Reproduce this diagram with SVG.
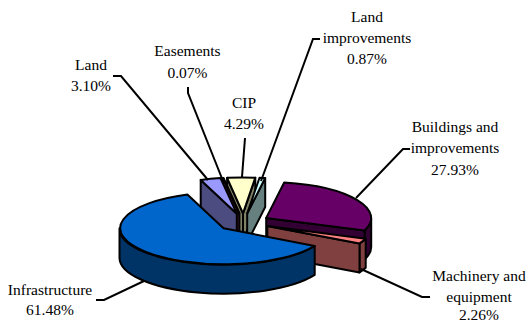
<svg xmlns="http://www.w3.org/2000/svg" width="527" height="324" viewBox="0 0 527 324">
<style>
.s{stroke:#000;stroke-width:2;stroke-linejoin:round}
.ld{fill:none;stroke:#000;stroke-width:2;stroke-linejoin:miter}
text{font-family:"Liberation Serif","Times New Roman","DejaVu Serif",serif;font-size:15.5px;fill:#000;text-anchor:middle}
</style>
<rect width="527" height="324" fill="#fff"/>
<g id="cip">
<path class="s" fill="#808066" d="M243.0,213.4 L227.1,177.8 L227.1,206.8 L243.0,242.4 Z"/>
<path class="s" fill="#808066" d="M243.0,213.4 L255.3,177.7 L255.3,206.7 L243.0,242.4 Z"/>
<path class="s" fill="#FFFFCC" d="M243.0,213.4 L227.1,177.8 A105,36 0 0 1 255.3,177.7 Z"/>
</g>
<g id="easements">
<path class="s" fill="#4C1933" d="M239.4,213.5 L223.1,178.0 L223.1,207.0 L239.4,242.5 Z"/>
<path class="s" fill="#993366" d="M239.4,213.5 L223.1,178.0 L223.5,177.9 Z"/>
</g>
<g id="land-improvements">
<path class="s" fill="#668080" d="M247.2,213.5 L265.2,178.0 L265.2,207.0 L247.2,242.5 Z"/>
<path class="s" fill="#CCFFFF" d="M247.2,213.5 L259.5,177.7 A105,36 0 0 1 265.2,178.0 Z"/>
</g>
<g id="land">
<path class="s" fill="#4C4C80" d="M236.8,213.7 L200.7,179.9 L200.7,208.9 L236.8,242.7 Z"/>
<path class="s" fill="#9999FF" d="M236.8,213.7 L200.7,179.9 A105,36 0 0 1 220.5,178.1 Z"/>
</g>
<g id="buildings">
<path class="s" fill="#330033" d="M371.2,217.9 A105,36 0 0 1 364.6,230.5 L364.6,259.5 A105,36 0 0 0 371.2,246.9 Z"/>
<path class="s" fill="#330033" d="M266.2,217.9 L364.6,230.5 L364.6,259.5 L266.2,246.9 Z"/>
<path class="s" fill="#660066" d="M266.2,217.9 L284.2,182.5 A105,36 0 0 1 364.6,230.5 Z"/>
</g>
<g id="machinery">
<path class="s" fill="#804040" d="M365.7,238.7 A105,36 0 0 1 359.5,243.4 L359.5,272.4 A105,36 0 0 0 365.7,267.7 Z"/>
<path class="s" fill="#804040" d="M267.3,226.1 L359.5,243.4 L359.5,272.4 L267.3,255.1 Z"/>
<path class="s" fill="#FF8080" d="M267.3,226.1 L365.7,238.7 A105,36 0 0 1 359.5,243.4 Z"/>
</g>
<g id="infrastructure">
<path class="s" fill="#003366" d="M314.7,245.9 A104,36 0 0 1 119.5,228.3 L119.5,257.3 A104,36 0 0 0 314.7,274.9 Z"/>
<path class="s" fill="#0066CC" d="M223.5,228.3 L314.7,245.9 A104,36 0 1 1 187.4,194.5 Z"/>
</g>
<g id="connectors">
<polyline class="ld" points="113,76 121,76 208,180"/>
<polyline class="ld" points="188,87 188,93 223,181"/>
<polyline class="ld" points="245,138 242,177"/>
<polyline class="ld" points="320,39 313,39 261,181"/>
<polyline class="ld" points="410,149 403,149 356,198"/>
<polyline class="ld" points="430,297 422,297 361,269"/>
<polyline class="ld" points="96,300 104,300 144,281"/>
</g>
<g id="labels">
<text x="91" y="70">Land</text><text x="91" y="91">3.10%</text>
<text x="187.5" y="56">Easements</text><text x="187.5" y="77.5">0.07%</text>
<text x="244" y="107.5">CIP</text><text x="244" y="128.5">4.29%</text>
<text x="367" y="21.5">Land</text><text x="367" y="42.5">improvements</text><text x="367" y="64">0.87%</text>
<text x="455" y="132">Buildings and</text><text x="455" y="153">improvements</text><text x="455" y="174.5">27.93%</text>
<text x="479" y="281">Machinery and</text><text x="479" y="301.5">equipment</text><text x="479" y="320">2.26%</text>
<text x="50" y="294.5">Infrastructure</text><text x="50" y="315">61.48%</text>
</g>
</svg>
